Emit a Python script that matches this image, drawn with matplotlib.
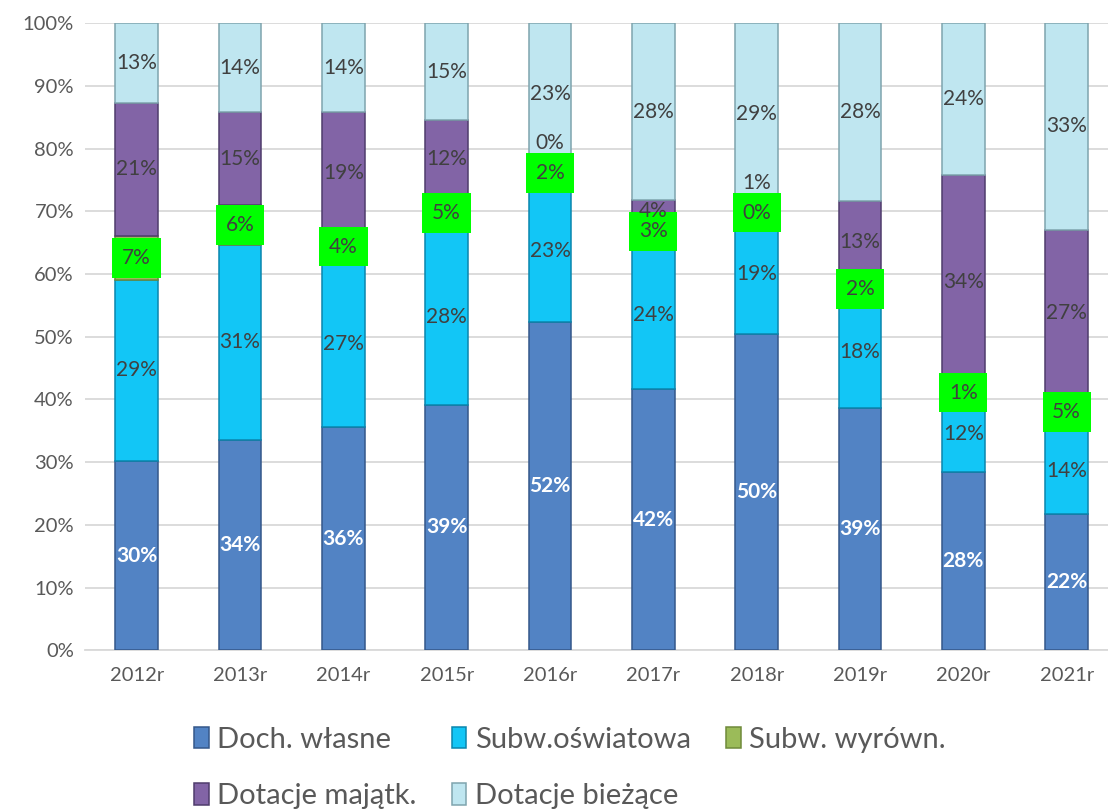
import matplotlib.pyplot as plt
import numpy as np

plt.rcParams['font.family'] = ['Lato', 'DejaVu Sans']

years = ['2012r', '2013r', '2014r', '2015r', '2016r', '2017r', '2018r', '2019r', '2020r', '2021r']
doch_wlasne = [30.2, 33.6, 35.6, 39.2, 52.3, 41.6, 50.4, 38.6, 28.4, 21.7]
subw_osw = [28.9, 31.0, 26.6, 28.0, 22.8, 23.8, 19.2, 18.0, 12.2, 13.8]
subw_wyr = [7.0, 6.4, 4.4, 5.0, 2.0, 2.8, 0.4, 2.0, 1.0, 5.0]
dot_maj = [21.2, 14.8, 19.2, 12.4, 0.3, 3.6, 1.0, 13.0, 34.2, 26.6]
dot_biez = [12.7, 14.2, 14.2, 15.4, 22.6, 28.2, 29.0, 28.4, 24.2, 32.9]

series = [doch_wlasne, subw_osw, subw_wyr, dot_maj, dot_biez]
names = ['Doch. własne', 'Subw.oświatowa', 'Subw. wyrówn.', 'Dotacje majątk.', 'Dotacje bieżące']
colors = ['#5283c4', '#12c6f6', '#9bbb59', '#8264a6', '#bfe6f0']
edges = ['#34578a', '#0a86ad', '#6f8a3a', '#4f3c6c', '#7fa4ae']

# label shift for tiny segments (in % points), keyed by (series, year index)
label_shift = {(3, 4): 3.7, (3, 6): 4.1}

fig = plt.figure(figsize=(11.08, 8.09), dpi=100)
ax = fig.add_axes([85/1108, 1-650.3/809, 1023/1108, 627/809])

x = np.arange(len(years))
w = 0.41
bottom = np.zeros(len(years))
handles = []
for k, vals in enumerate(series):
    vals = np.array(vals)
    b = ax.bar(x, vals, w, bottom=bottom, color=colors[k], edgecolor=edges[k],
               linewidth=1.1, zorder=3, label=names[k])
    handles.append(b)
    for i, v in enumerate(vals):
        yc = bottom[i] + v/2 + label_shift.get((k, i), 0)
        txt = '%d%%' % int(round(v))
        if k == 0:
            ax.text(x[i], yc, txt, ha='center', va='center', fontsize=15,
                    color='white', fontweight='bold', zorder=6)
        elif k == 2:
            ax.text(x[i], yc, txt, ha='center', va='center', fontsize=15,
                    color='#404040', zorder=6,
                    bbox=dict(boxstyle='square,pad=0.47', fc='#00ff00', ec='none'))
        else:
            ax.text(x[i], yc, txt, ha='center', va='center', fontsize=15,
                    color='#404040', zorder=6)
    bottom += vals

ax.set_xlim(-0.5, 9.4)
ax.set_ylim(0, 100)
ax.set_yticks(np.arange(0, 101, 10))
ax.set_yticklabels(['%d%%' % t for t in range(0, 101, 10)])
ax.set_xticks(x)
ax.set_xticklabels(years)
ax.tick_params(axis='both', length=0, labelsize=14.5, labelcolor='#595959')
ax.tick_params(axis='x', pad=12)
ax.tick_params(axis='y', pad=8)
ax.yaxis.grid(True, color='#d9d9d9', linewidth=1.3, zorder=0)
for s in ax.spines.values():
    s.set_visible(False)
ax.spines['bottom'].set_visible(True)
ax.spines['bottom'].set_color('#d9d9d9')
ax.spines['bottom'].set_linewidth(1.3)

order = [0, 3, 1, 4, 2]
leg = fig.legend([handles[i] for i in order], [names[i] for i in order],
                 loc='center', bbox_to_anchor=(570/1108, 1-768/809), ncol=3,
                 frameon=False, fontsize=21, handlelength=0.5, handleheight=0.75,
                 handletextpad=0.3, columnspacing=1.2, labelspacing=1.05)
for t in leg.get_texts():
    t.set_color('#595959')

fig.savefig('out.png', dpi=100)
